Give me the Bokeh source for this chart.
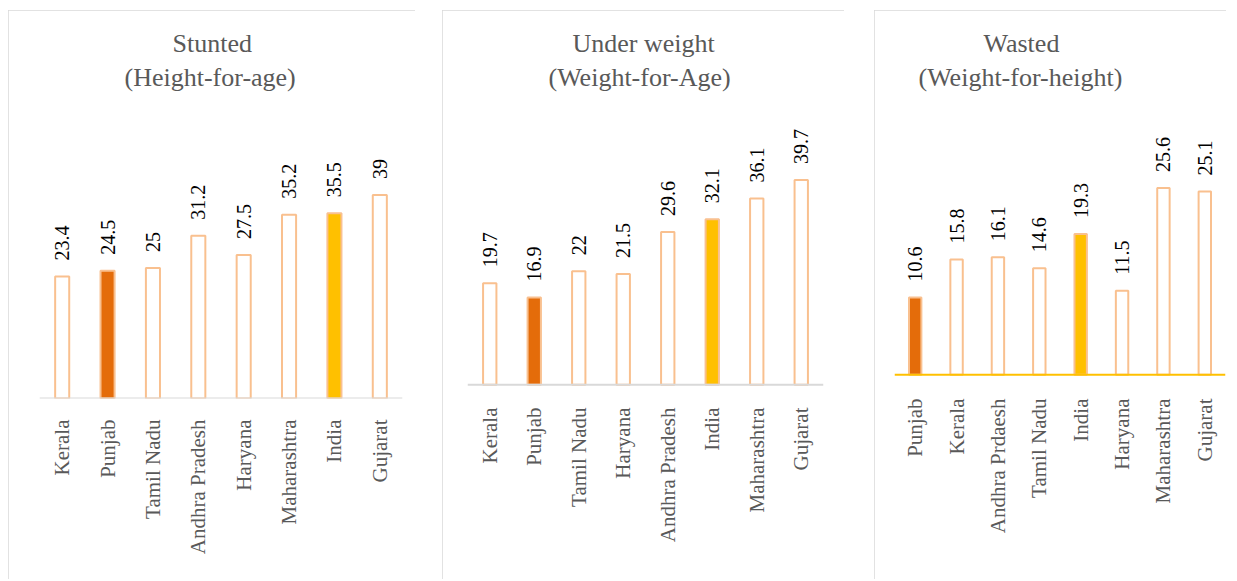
from math import pi
from bokeh.plotting import figure
from bokeh.models import FactorRange, Range1d, Title, ColumnDataSource, Span
from bokeh.layouts import row
from bokeh.embed import file_html
from bokeh.resources import INLINE
from bokeh.core.properties import value

# ---- data ----
stunted_states = ["Kerala", "Punjab", "Tamil Nadu", "Andhra Pradesh", "Haryana",
                  "Maharashtra", "India", "Gujarat"]
stunted_values = [23.4, 24.5, 25, 31.2, 27.5, 35.2, 35.5, 39]

underweight_states = ["Kerala", "Punjab", "Tamil Nadu", "Haryana", "Andhra Pradesh",
                      "India", "Maharashtra", "Gujarat"]
underweight_values = [19.7, 16.9, 22, 21.5, 29.6, 32.1, 36.1, 39.7]

wasted_states = ["Punjab", "Kerala", "Andhra Prdaesh", "Tamil Nadu", "India",
                 "Haryana", "Maharashtra", "Gujarat"]
wasted_values = [10.6, 15.8, 16.1, 14.6, 19.3, 11.5, 25.6, 25.1]

titles = [("Stunted", "(Height-for-age)"),
          ("Under weight", "(Weight-for-Age)"),
          ("Wasted", "(Weight-for-height)")]

# ---- style ----
SERIF = "'Liberation Serif', 'Times New Roman', 'DejaVu Serif', serif"
GRAY_TXT = "#595959"
BORDER = "#D9D9D9"
OUTLINE = "#F9C08F"
PUNJAB = "#E46C0A"
INDIA = "#FFC000"


def fill_for(state):
    if state == "Punjab":
        return PUNJAB
    if state == "India":
        return INDIA
    return "white"


def panel(states, values, t1, t2, width, bl, br, y0, y1, axis_color,
          off1, off2, margin, clip, bar_w, standoff):
    p = figure(x_range=FactorRange(*states, range_padding=0),
               y_range=Range1d(y0, y1),
               width=width, height=571, output_backend="svg",
               toolbar_location=None, min_border_left=bl, min_border_right=br,
               min_border_top=90, min_border_bottom=183, title=None)
    p.margin = margin
    p.styles = {"outline": f"2px solid {BORDER}", "outline-offset": "-2px",
                "clip-path": clip}
    p.outline_line_color = None
    p.background_fill_color = "white"
    p.border_fill_color = "white"
    p.xgrid.visible = False
    p.ygrid.visible = False
    p.yaxis.visible = False

    src = ColumnDataSource(dict(
        x=states, y=values,
        fill=[fill_for(s) for s in states],
        label=[f"{v:g}" for v in values]))
    p.vbar(x="x", top="y", bottom=0, width=bar_w, source=src, fill_color="fill",
           line_color=OUTLINE, line_width=2)
    p.text(x="x", y="y", text="label", source=src, angle=pi / 2,
           text_align="left", text_baseline="middle", y_offset=-16,
           text_font=value(SERIF), text_font_size="20px", text_color="black")
    p.add_layout(Span(location=0, dimension="width", line_color=axis_color,
                      line_width=2))

    ax = p.xaxis[0]
    ax.axis_line_color = None
    ax.major_tick_line_color = None
    ax.minor_tick_line_color = None
    ax.major_tick_out = 0
    ax.major_tick_in = 0
    ax.major_label_orientation = pi / 2
    ax.major_label_standoff = standoff
    ax.major_label_text_font = SERIF
    ax.major_label_text_font_size = "21px"
    ax.major_label_text_color = GRAY_TXT

    p.add_layout(Title(text=t2, align="left", offset=off2, standoff=17,
                       text_font=SERIF, text_font_size="26px",
                       text_font_style="normal", text_color=GRAY_TXT), "above")
    p.add_layout(Title(text=t1, align="left", offset=off1, standoff=-10,
                       text_font=SERIF, text_font_size="26px",
                       text_font_style="normal", text_color=GRAY_TXT), "above")
    return p


# common frame: top y=100, bottom y=398 (298 px)
p1 = panel(stunted_states, stunted_values, *titles[0], width=407, bl=31, br=13,
           y0=0, y1=57.1, axis_color=BORDER, off1=133, off2=85,
           margin=(10, 0, 0, 8), clip="inset(0px 0px 2px 0px)", bar_w=0.31,
           standoff=21)
p2 = panel(underweight_states, underweight_values, *titles[1], width=402, bl=25,
           br=21, y0=-2.65, y1=55.1, axis_color=BORDER, off1=105, off2=81,
           margin=(10, 0, 0, 27), clip="inset(0px 0px 2px 0px)", bar_w=0.3,
           standoff=9)
p3 = panel(wasted_states, wasted_values, *titles[2], width=355, bl=20, br=4,
           y0=-3.25, y1=37.58, axis_color=INDIA, off1=89, off2=24,
           margin=(10, 0, 0, 30), clip="inset(0px 3px 2px 0px)", bar_w=0.3,
           standoff=0)

layout = row(p1, p2, p3)
open("out.html", "w").write(file_html(layout, INLINE))
